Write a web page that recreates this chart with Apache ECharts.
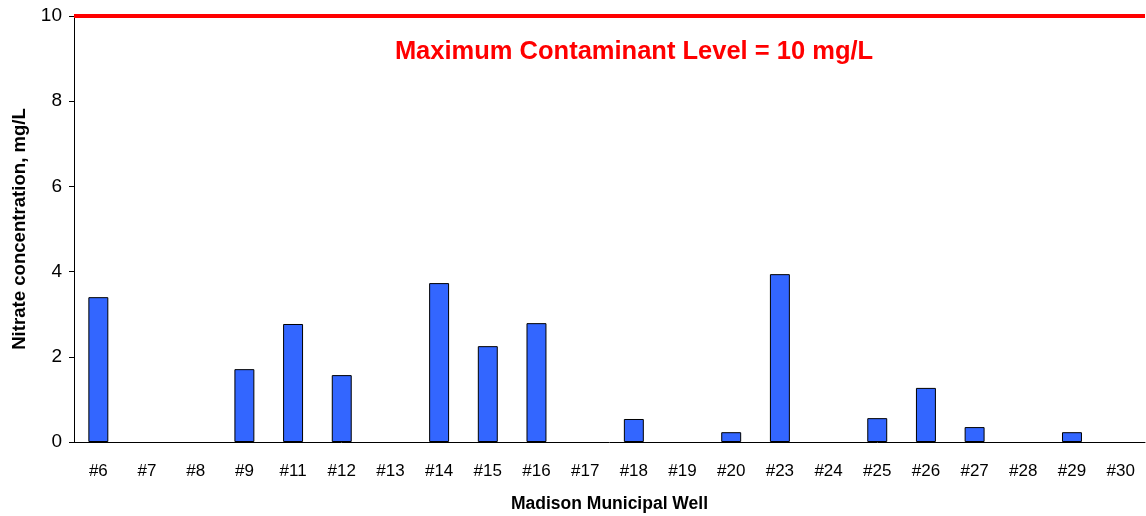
<!DOCTYPE html>
<html>
<head>
<meta charset="utf-8">
<script src="https://cdn.jsdelivr.net/npm/echarts@6/dist/echarts.min.js"></script>
<style>
  html, body { margin: 0; padding: 0; background: #fff; }
  #chart { width: 1146px; height: 516px; }
</style>
</head>
<body>
<div id="chart"></div>
<script>
// wells and nitrate readings (mg/L)
var wells = ['#6', '#7', '#8', '#9', '#11', '#12', '#13', '#14', '#15', '#16', '#17',
             '#18', '#19', '#20', '#23', '#24', '#25', '#26', '#27', '#28', '#29', '#30'];
var nitrate = [3.40, 0, 0, 1.71, 2.77, 1.57, 0, 3.73, 2.25, 2.79, 0,
               0.54, 0, 0.23, 3.94, 0, 0.56, 1.27, 0.35, 0, 0.23, 0];
var mcl = 10;
var yTicks = [0, 2, 4, 6, 8, 10];

// zero readings draw no bar at all
var barData = nitrate.map(function(v){ return v === 0 ? '-' : v; });

var chart = echarts.init(document.getElementById('chart'));
chart.setOption({
    animation: false,
    textStyle: { fontFamily: 'Liberation Sans, Arial, sans-serif' },
    title: {
        text: 'Maximum Contaminant Level = 10 mg/L',
        left: 629, top: 34,
        textAlign: 'center',
        textStyle: { color: '#ff0000', fontSize: 25.5, fontWeight: 'bold' }
    },
    grid: { left: 74, right: 1, top: 16, bottom: 74, outerBoundsMode: 'none' },
    xAxis: {
        type: 'category',
        data: wells,
        name: 'Madison Municipal Well',
        nameLocation: 'middle',
        nameGap: 53,
        nameTextStyle: { color: '#000', fontSize: 17.5, fontWeight: 'bold' },
        axisLine: { lineStyle: { color: '#000', width: 1 } },
        axisTick: { length: 6, lineStyle: { color: '#000' } },
        axisLabel: { color: '#000', fontSize: 17, margin: 21 }
    },
    yAxis: {
        type: 'value',
        min: yTicks[0],
        max: yTicks[yTicks.length - 1],
        interval: 2,
        name: 'Nitrate concentration, mg/L',
        nameLocation: 'middle',
        nameGap: 45,
        nameTextStyle: { color: '#000', fontSize: 18.6, fontWeight: 'bold' },
        axisLine: { show: true, lineStyle: { color: '#000', width: 1 } },
        axisTick: { show: true, length: 5, lineStyle: { color: '#000' } },
        axisLabel: { color: '#000', fontSize: 19, margin: 12 },
        splitLine: { show: false }
    },
    series: [{
        type: 'bar',
        data: barData,
        barWidth: '41%',
        itemStyle: { color: '#3366ff', borderColor: '#000', borderWidth: 1 },
        markLine: {
            silent: true,
            symbol: 'none',
            label: { show: false },
            lineStyle: { color: '#ff0000', width: 4, type: 'solid' },
            data: [{ yAxis: mcl }]
        }
    }]
});
</script>
</body>
</html>
